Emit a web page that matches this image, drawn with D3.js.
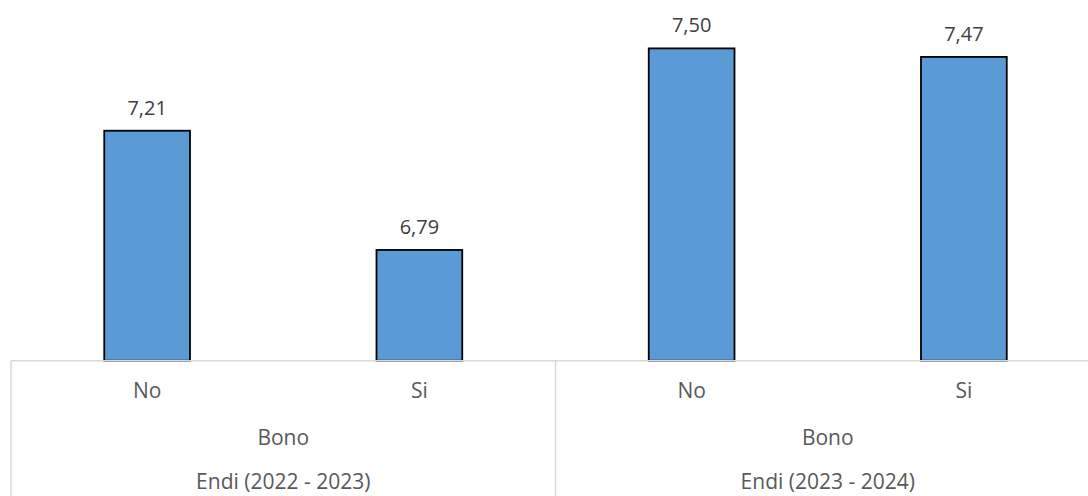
<!DOCTYPE html>
<html>
<head>
<meta charset="utf-8">
<script src="https://cdn.jsdelivr.net/npm/d3@7"></script>
<style>
  html, body { margin: 0; padding: 0; background: #fff; }
  svg { display: block; }
  text { font-family: "Open Sans", "Noto Sans", sans-serif; }
</style>
</head>
<body>
<svg id="chart" width="1088" height="496"></svg>
<script>
// Bar values per category, grouped by school year
const groups = ["Endi (2022 - 2023)", "Endi (2023 - 2024)"];
const subLevel = ["Bono", "Bono"];
const categories = ["No", "Si", "No", "Si"];
const groupIndex = [0, 0, 1, 1];
const values = [7.21, 6.79, 7.50, 7.47];
const yDomain = [6.4, 7.6];

const svg = d3.select("#chart");
const width = 1088, height = 496;
const plot = { left: 11, right: 1100, top: 20, bottom: 360.7 };

const keys = categories.map((c, i) => i);
const x = d3.scaleBand()
  .domain(keys)
  .range([plot.left, plot.right])
  .paddingInner(0.685)
  .paddingOuter(0.3425);

const y = d3.scaleLinear().domain(yDomain).range([plot.bottom, plot.top]);

const fmt = v => d3.format(".2f")(v).replace(".", ",");

// Bars
svg.append("g")
  .selectAll("rect")
  .data(values)
  .join("rect")
  .attr("x", (d, i) => x(i))
  .attr("width", x.bandwidth())
  .attr("y", d => y(d))
  .attr("height", d => y(yDomain[0]) - y(d))
  .attr("fill", "#5B9BD5")
  .attr("stroke", "#000")
  .attr("stroke-width", 1.8);

// Value labels
svg.append("g")
  .selectAll("text")
  .data(values)
  .join("text")
  .attr("x", (d, i) => x(i) + x.bandwidth() / 2)
  .attr("y", d => y(d) - 16)
  .attr("text-anchor", "middle")
  .attr("font-size", 20)
  .attr("fill", "#404040")
  .text(d => fmt(d));

// Category axis: baseline and group separators
const axis = svg.append("g").attr("stroke", "#d9d9d9").attr("stroke-width", 1.5);
axis.append("line")
  .attr("x1", plot.left).attr("x2", width)
  .attr("y1", plot.bottom).attr("y2", plot.bottom);

const step = x.step();
const groupBounds = groups.map((g, gi) => {
  const idx = keys.filter(i => groupIndex[i] === gi);
  return {
    x0: x(idx[0]) + x.bandwidth() / 2 - step / 2,
    x1: x(idx[idx.length - 1]) + x.bandwidth() / 2 + step / 2
  };
});
groupBounds.forEach(b => {
  axis.append("line")
    .attr("x1", b.x0).attr("x2", b.x0)
    .attr("y1", plot.bottom).attr("y2", height);
});

// Level 1: category names
const labels = svg.append("g")
  .attr("font-size", 21)
  .attr("fill", "#595959")
  .attr("text-anchor", "middle");

labels.selectAll("text.cat")
  .data(categories)
  .join("text")
  .attr("class", "cat")
  .attr("x", (d, i) => x(i) + x.bandwidth() / 2)
  .attr("y", 391)
  .attr("dy", "0.35em")
  .text(d => d);

// Level 2 and 3: sub-group and group names
groupBounds.forEach((b, gi) => {
  const cx = (b.x0 + b.x1) / 2;
  labels.append("text")
    .attr("x", cx).attr("y", 438).attr("dy", "0.35em")
    .text(subLevel[gi]);
  labels.append("text")
    .attr("x", cx).attr("y", 482).attr("dy", "0.35em")
    .text(groups[gi]);
});
</script>
</body>
</html>
